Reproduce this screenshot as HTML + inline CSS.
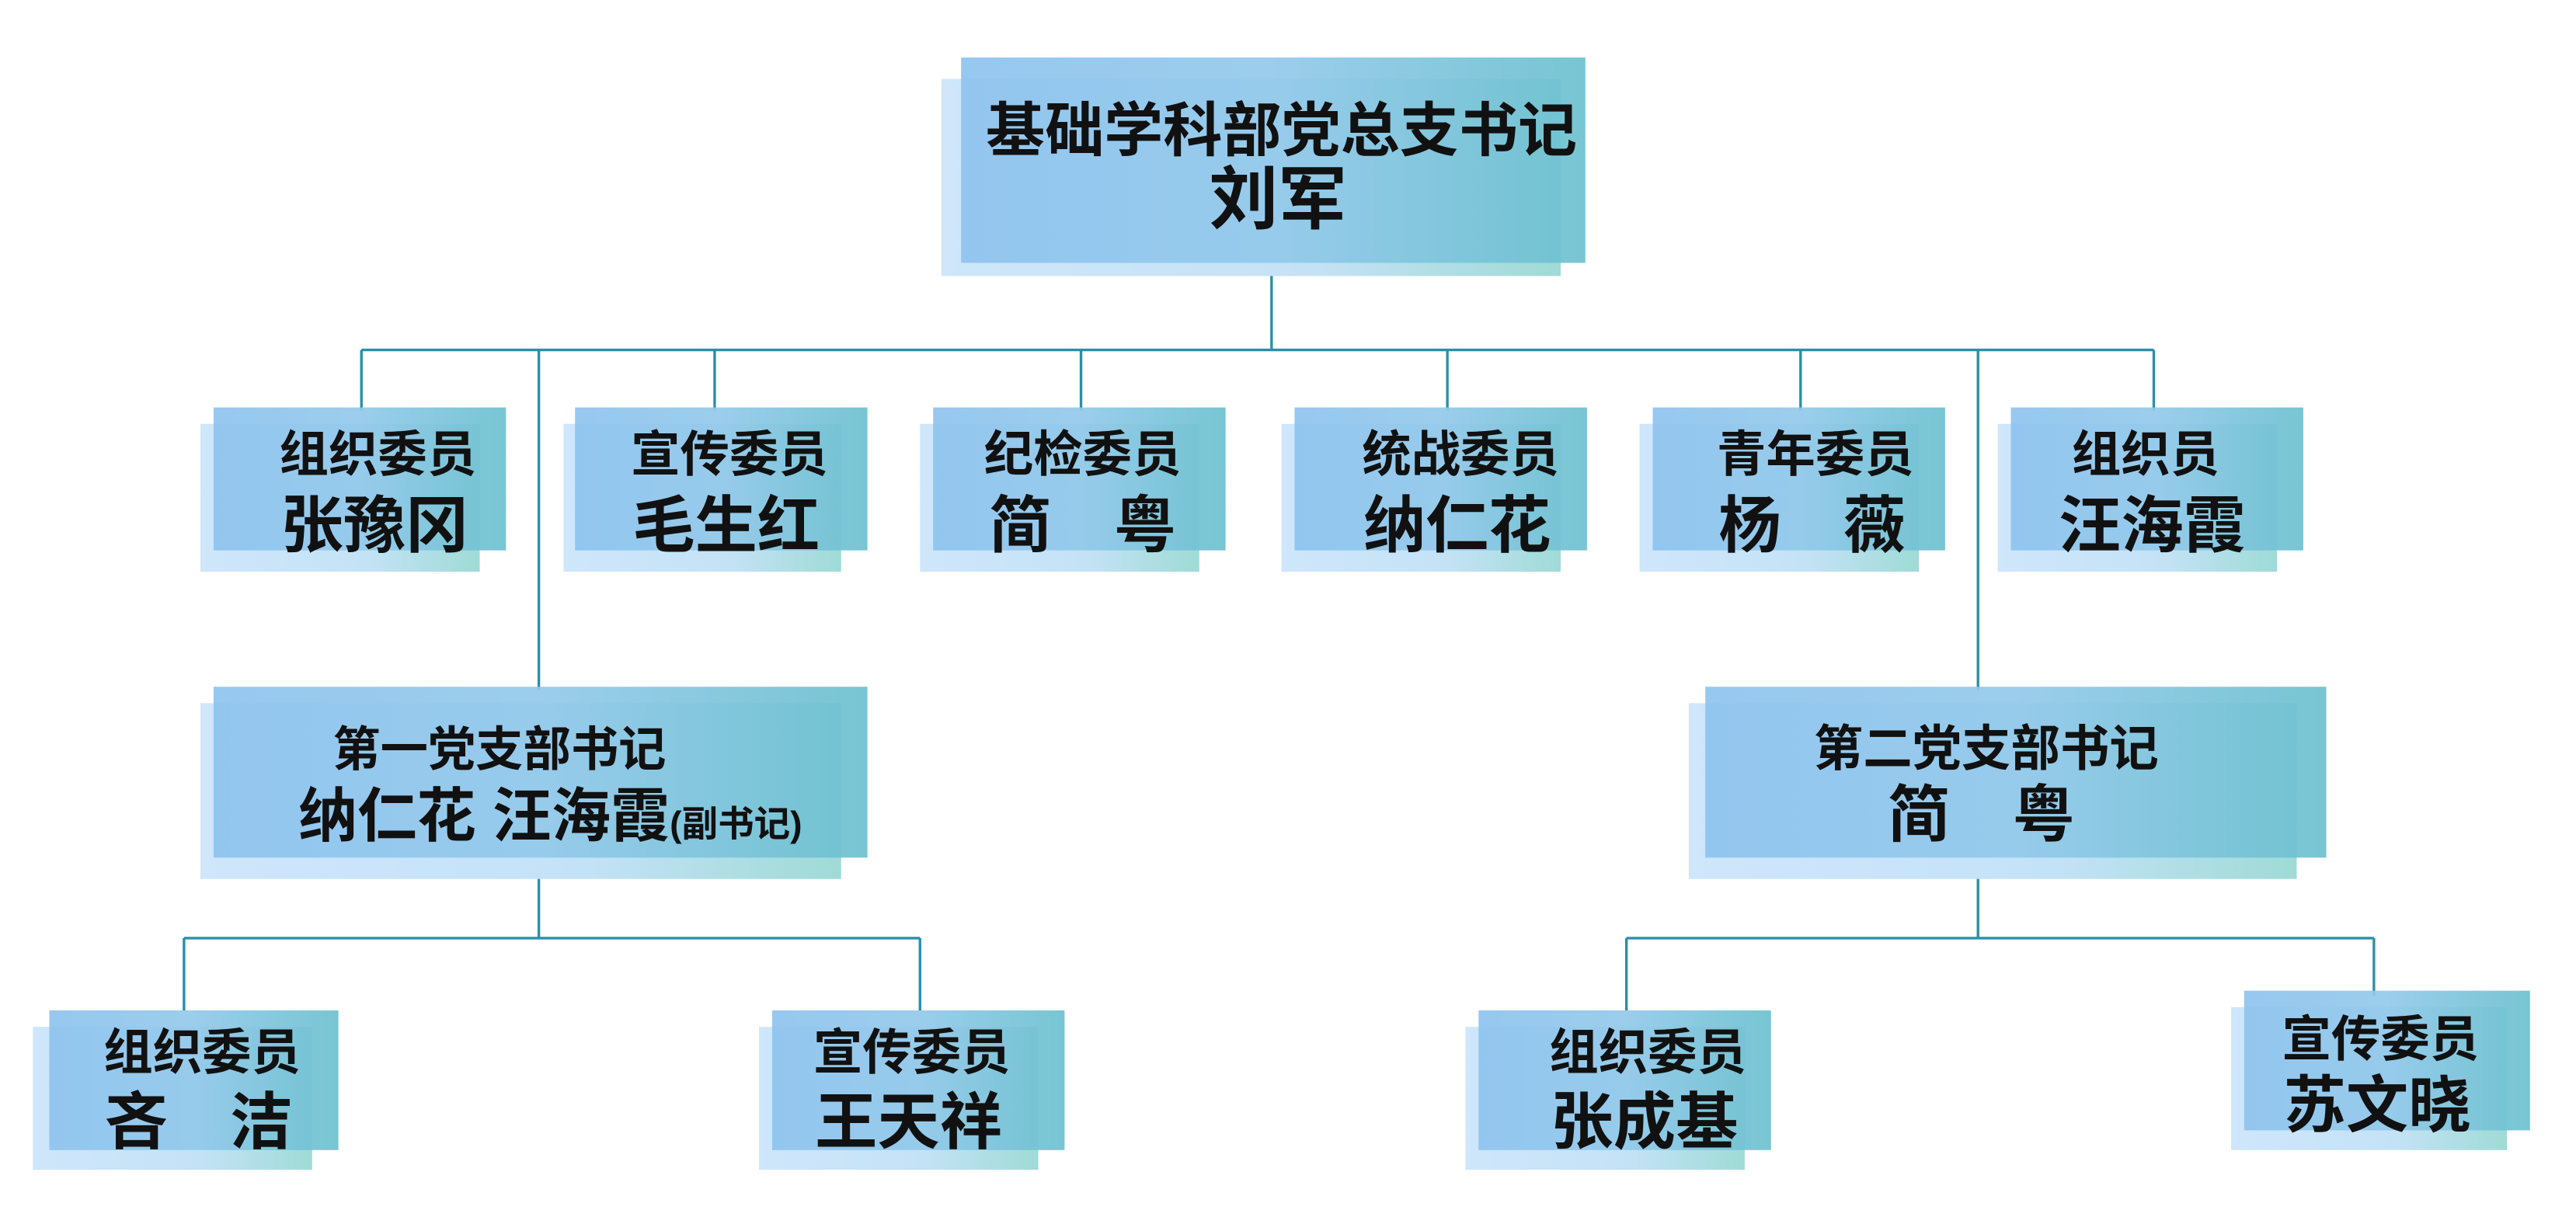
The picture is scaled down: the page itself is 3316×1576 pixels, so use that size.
<!DOCTYPE html>
<html><head><meta charset="utf-8">
<style>
html,body{margin:0;padding:0;background:#fff;}
svg{display:block;}
text{font-family:"Liberation Sans","Noto Sans CJK SC","WenQuanYi Zen Hei",sans-serif;font-weight:bold;fill:#111;text-anchor:middle;}
</style></head><body>
<svg width="3316" height="1576" viewBox="0 0 1568 745" preserveAspectRatio="none" xmlns="http://www.w3.org/2000/svg">
<defs>
<linearGradient id="f" x1="0" y1="0" x2="1" y2="0">
<stop offset="0" stop-color="#8ec3ee"/><stop offset="0.5" stop-color="#93c9ea"/><stop offset="1" stop-color="#6cc0cf"/>
</linearGradient>
<linearGradient id="b" x1="0" y1="0" x2="1" y2="0">
<stop offset="0" stop-color="#cfe6fb"/><stop offset="0.6" stop-color="#c4e2f6"/><stop offset="1" stop-color="#9fdbd6"/>
</linearGradient>
</defs>
<g stroke="#2b8fa8" stroke-width="1.6" fill="none">
<line x1="774" y1="160" x2="774" y2="213"/>
<line x1="220" y1="213" x2="1311" y2="213"/>
<line x1="220" y1="213" x2="220" y2="250"/>
<line x1="435" y1="213" x2="435" y2="250"/>
<line x1="658" y1="213" x2="658" y2="250"/>
<line x1="881" y1="213" x2="881" y2="250"/>
<line x1="1096" y1="213" x2="1096" y2="250"/>
<line x1="1311" y1="213" x2="1311" y2="250"/>
<line x1="328" y1="213" x2="328" y2="420"/>
<line x1="1204" y1="213" x2="1204" y2="420"/>
<line x1="328" y1="522" x2="328" y2="571"/>
<line x1="112" y1="571" x2="560" y2="571"/>
<line x1="112" y1="571" x2="112" y2="615"/>
<line x1="560" y1="571" x2="560" y2="615"/>
<line x1="1204" y1="522" x2="1204" y2="571"/>
<line x1="990" y1="571" x2="1445" y2="571"/>
<line x1="990" y1="571" x2="990" y2="615"/>
<line x1="1445" y1="571" x2="1445" y2="606"/>
</g>
<!-- boxes: back then front -->
<g>
<rect x="573" y="48" width="377" height="120" fill="url(#b)"/>
<rect x="585" y="35" width="380" height="125" fill="url(#f)" opacity="0.92"/>

<rect x="122" y="258" width="170" height="90" fill="url(#b)"/>
<rect x="130" y="248" width="178" height="87" fill="url(#f)" opacity="0.92"/>
<rect x="343" y="258" width="169" height="90" fill="url(#b)"/>
<rect x="350" y="248" width="178" height="87" fill="url(#f)" opacity="0.92"/>
<rect x="560" y="258" width="170" height="90" fill="url(#b)"/>
<rect x="568" y="248" width="178" height="87" fill="url(#f)" opacity="0.92"/>
<rect x="780" y="258" width="170" height="90" fill="url(#b)"/>
<rect x="788" y="248" width="178" height="87" fill="url(#f)" opacity="0.92"/>
<rect x="998" y="258" width="170" height="90" fill="url(#b)"/>
<rect x="1006" y="248" width="178" height="87" fill="url(#f)" opacity="0.92"/>
<rect x="1216" y="258" width="170" height="90" fill="url(#b)"/>
<rect x="1224" y="248" width="178" height="87" fill="url(#f)" opacity="0.92"/>

<rect x="122" y="428" width="390" height="107" fill="url(#b)"/>
<rect x="130" y="418" width="398" height="104" fill="url(#f)" opacity="0.92"/>
<rect x="1028" y="428" width="370" height="107" fill="url(#b)"/>
<rect x="1038" y="418" width="378" height="104" fill="url(#f)" opacity="0.92"/>

<rect x="20" y="625" width="170" height="87" fill="url(#b)"/>
<rect x="30" y="615" width="176" height="85" fill="url(#f)" opacity="0.92"/>
<rect x="462" y="625" width="170" height="87" fill="url(#b)"/>
<rect x="470" y="615" width="178" height="85" fill="url(#f)" opacity="0.92"/>
<rect x="892" y="625" width="170" height="87" fill="url(#b)"/>
<rect x="900" y="615" width="178" height="85" fill="url(#f)" opacity="0.92"/>
<rect x="1358" y="613" width="168" height="87" fill="url(#b)"/>
<rect x="1366" y="603" width="174" height="85" fill="url(#f)" opacity="0.92"/>
</g>
<g>
<text x="780" y="92" font-size="36">基础学科部党总支书记</text>
<text x="778" y="136" font-size="42">刘军</text>

<text x="230" y="287" font-size="30">组织委员</text>
<text x="228" y="333" font-size="38">张豫冈</text>
<text x="444" y="287" font-size="30">宣传委员</text>
<text x="442" y="333" font-size="38">毛生红</text>
<text x="659" y="287" font-size="30">纪检委员</text>
<text x="659" y="333" font-size="38">简　粤</text>
<text x="889" y="287" font-size="30">统战委员</text>
<text x="887" y="333" font-size="38">纳仁花</text>
<text x="1105" y="287" font-size="30">青年委员</text>
<text x="1103" y="333" font-size="38">杨　薇</text>
<text x="1306" y="287" font-size="30">组织员</text>
<text x="1310" y="333" font-size="38">汪海霞</text>

<text x="304" y="466" font-size="29">第一党支部书记</text>
<text x="335" y="509" font-size="36"><tspan>纳仁花 汪海霞</tspan><tspan font-size="22">(副书记)</tspan></text>
<text x="1209" y="466" font-size="30">第二党支部书记</text>
<text x="1206" y="509" font-size="38">简　粤</text>

<text x="123" y="651" font-size="30">组织委员</text>
<text x="121" y="696" font-size="38">吝　洁</text>
<text x="555" y="651" font-size="30">宣传委员</text>
<text x="553" y="696" font-size="38">王天祥</text>
<text x="1003" y="651" font-size="30">组织委员</text>
<text x="1001" y="696" font-size="38">张成基</text>
<text x="1449" y="643" font-size="30">宣传委员</text>
<text x="1447" y="686" font-size="38">苏文晓</text>
</g>
</svg>
</body></html>
